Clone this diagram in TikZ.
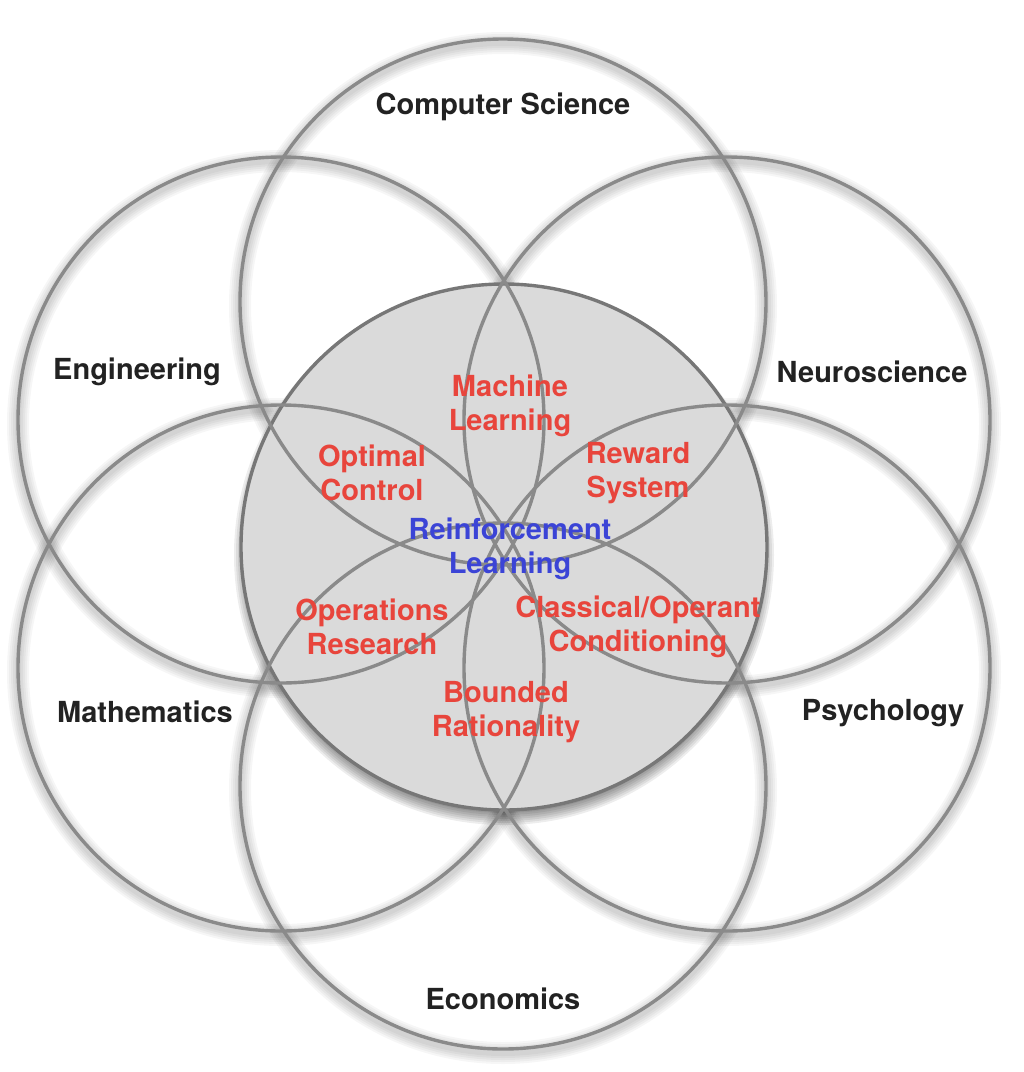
\documentclass[tikz,border=0pt]{standalone}
\usepackage{fontspec}
\setmainfont{TeX Gyre Heros}
\definecolor{ringgray}{HTML}{8A8A8A}
\definecolor{hubedge}{HTML}{777777}
\definecolor{fillgray}{HTML}{DADADA}
\definecolor{lblred}{HTML}{E8453C}
\definecolor{lblblue}{HTML}{3B44D6}
\definecolor{lblblack}{HTML}{222222}
\begin{document}
\begin{tikzpicture}[x=1pt,y=-1pt,
  ring/.style={circle, draw=ringgray, line width=3.4pt, inner sep=0pt, minimum size=526pt},
  hub/.style={circle, draw=hubedge, line width=3.4pt, fill=fillgray, inner sep=0pt, minimum size=526pt},
  field/.style={font=\fontsize{29}{34}\selectfont\bfseries, text=lblblack, align=center, inner sep=0pt},
  topic/.style={field, text=lblred},
  core/.style={field, text=lblblue}]
\useasboundingbox (0,0) rectangle (1024,1072);
\fill[white] (0,0) rectangle (1024,1072);
% centres
\coordinate (pCS) at (503,302);
\coordinate (pEC) at (503,786);
\coordinate (pEN) at (281,420);
\coordinate (pNE) at (727,420);
\coordinate (pMA) at (281,668);
\coordinate (pPS) at (727,668);
\coordinate (pRL) at (504,547);
% soft shadows of the outer circles
\foreach \c in {pCS,pEC,pEN,pNE,pMA,pPS}{
  \foreach \w in {6,10,14,18,22}{
    \draw[black, opacity=0.035, line width=\w pt] ([yshift=-4pt]\c) circle[radius=263];
  }
}
% blurred shadow of the central circle
\foreach \i in {250,252,...,270}{
  \fill[black, opacity=0.07] ([yshift=-8pt]pRL) circle[radius=\i];
}
\node[hub] (rl) at (pRL) {};
% outer circles
\node[ring] (cs) at (pCS) {};
\node[ring] (ec) at (pEC) {};
\node[ring] (en) at (pEN) {};
\node[ring] (ne) at (pNE) {};
\node[ring] (ma) at (pMA) {};
\node[ring] (ps) at (pPS) {};
% outer labels
\node[field] (tCS) at (503,107) {Computer Science};
\node[field] (tEN) at (137,372) {Engineering};
\node[field] (tNE) at (872,372) {Neuroscience};
\node[field] (tMA) at (145,712) {Mathematics};
\node[field] (tPS) at (883,713) {Psychology};
\node[field] (tEC) at (503,999) {Economics};
% inner labels
\node[topic] (tML) at (510,406) {Machine\\Learning};
\node[topic] (tOC) at (372,473) {Optimal\\Control};
\node[topic] (tRS) at (638,473) {Reward\\System};
\node[core]  (tRL) at (510,549) {Reinforcement\\Learning};
\node[topic] (tOR) at (372,627) {Operations\\Research};
\node[topic] (tCO) at (638,627) {Classical/Operant\\Conditioning};
\node[topic] (tBR) at (506,712) {Bounded\\Rationality};
\end{tikzpicture}
\end{document}
